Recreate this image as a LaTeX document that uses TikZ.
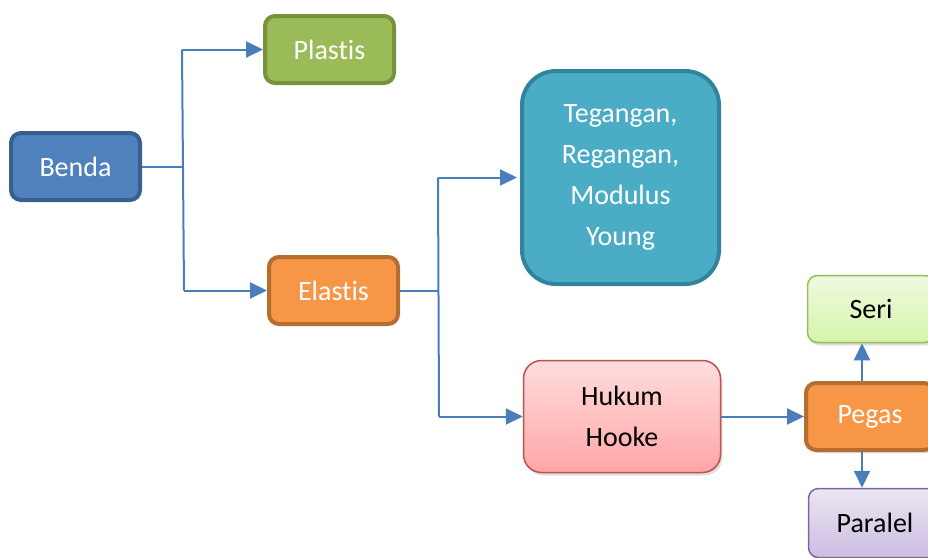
\documentclass[tikz,border=0pt]{standalone}
\usepackage{fontspec}
\setmainfont[Ligatures={NoCommon}]{Carlito}
\usetikzlibrary{arrows.meta,shadows}
\definecolor{conn}{HTML}{4A7EBB}
\definecolor{bendaF}{HTML}{4F81BD}\definecolor{bendaD}{HTML}{3A5F8E}
\definecolor{plasF}{HTML}{9BBB59}\definecolor{plasD}{HTML}{76923C}
\definecolor{elasF}{HTML}{F79646}\definecolor{elasD}{HTML}{B66D31}
\definecolor{tegF}{HTML}{4BACC6}\definecolor{tegD}{HTML}{31849B}
\definecolor{hukT}{HTML}{FFDDDD}\definecolor{hukB}{HTML}{FFA6A6}\definecolor{hukD}{HTML}{C0504D}
\definecolor{seriT}{HTML}{EEFADF}\definecolor{seriB}{HTML}{D6F4AD}\definecolor{seriD}{HTML}{9BBB59}
\definecolor{parT}{HTML}{ECE6F2}\definecolor{parB}{HTML}{CBBDE2}\definecolor{parD}{HTML}{8064A2}
\tikzset{
  box/.style={rounded corners=10pt, font=\fontsize{28}{41}\selectfont, align=center, inner sep=0pt},
  thickbox/.style={box, line width=4pt, text=white},
  thinbox/.style={box, line width=1.5pt, text=black, drop shadow={shadow xshift=2pt, shadow yshift=-3pt, opacity=0.25}},
  conline/.style={draw=conn, line width=2pt},
  arr/.style={conline, -{Triangle[length=17pt,width=16pt]}}
}
\begin{document}
\begin{tikzpicture}[x=1pt,y=-1pt]
\useasboundingbox (0,0) rectangle (928,557);
\clip (0,0) rectangle (928,557);
% nodes
\node[thickbox, fill=bendaF, draw=bendaD, minimum width=129pt, minimum height=67pt] (benda) at (75.5,166.5) {Benda};
\node[thickbox, fill=plasF, draw=plasD, minimum width=129pt, minimum height=67pt] (plastis) at (329.5,49.5) {Plastis};
\node[thickbox, fill=elasF, draw=elasD, minimum width=129pt, minimum height=67pt] (elastis) at (333.5,290.5) {Elastis};
\node[thickbox, rounded corners=34pt, fill=tegF, draw=tegD, minimum width=197pt, minimum height=213pt] (teg) at (620.5,177.5) {Tegangan,\\Regangan,\\Modulus\\Young};
\node[thinbox, rounded corners=18pt, top color=hukT, bottom color=hukB, draw=hukD, minimum width=197pt, minimum height=112pt] (hukum) at (622,416.5) {Hukum\\Hooke};
\node[thickbox, fill=elasF, draw=elasD, minimum width=128pt, minimum height=67pt, drop shadow={shadow xshift=2pt, shadow yshift=-3pt, opacity=0.25}] (pegas) at (870,416.5) {Pegas};
\node[thinbox, top color=seriT, bottom color=seriB, draw=seriD, minimum width=127pt, minimum height=67pt] (seri) at (871,309) {Seri};
\node[thinbox, top color=parT, bottom color=parB, draw=parD, minimum width=133pt, minimum height=69pt] (paralel) at (875,523) {Paralel};
% junctions
\coordinate (j1) at (182,166.5);
\coordinate (j1t) at (182,49.5);
\coordinate (j1b) at (184,290.5);
\coordinate (j2) at (438,290.5);
\coordinate (j2t) at (438,177.5);
\coordinate (j2b) at (439,416.5);
\coordinate (pt) at (862,381);
\coordinate (pb) at (862,452);
% connectors
\draw[conline] (benda.east) -- (j1);
\draw[conline] (j1t) -- (j1b);
\draw[arr] (j1t) -- (plastis.west);
\draw[arr] (j1b) -- (elastis.west);
\draw[conline] (elastis.east) -- (j2);
\draw[conline] (j2t) -- (j2b);
\draw[arr] (j2t) -- ([xshift=-3pt]teg.west);
\draw[arr] (j2b) -- (hukum.west);
\draw[arr] (hukum.east) -- (pegas.west);
\draw[arr] (pt) -- (pt |- seri.south);
\draw[arr] (pb) -- (pb |- paralel.north);
\end{tikzpicture}
\end{document}
